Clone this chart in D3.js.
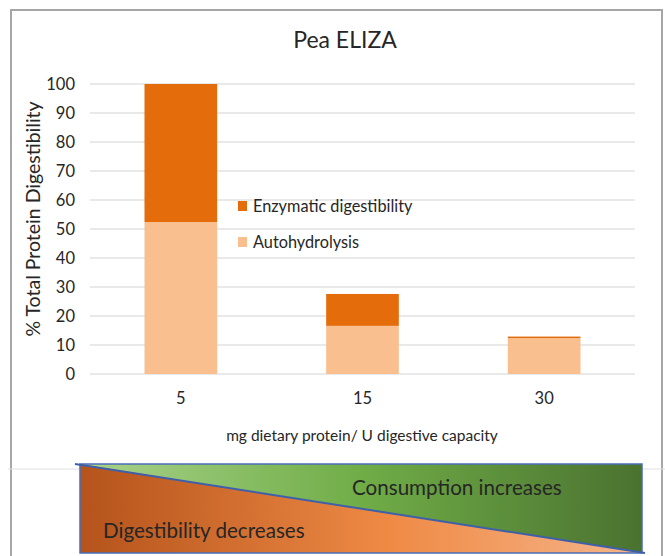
<!DOCTYPE html>
<html>
<head>
<meta charset="utf-8">
<script src="https://cdn.jsdelivr.net/npm/d3@7"></script>
<style>
  body { margin: 0; background: #fff; }
  svg text { font-family: Lato, "Open Sans", sans-serif; fill: #262626; }
</style>
</head>
<body>
<div id="chart"></div>
<script>
// chart data
var categories = ["5", "15", "30"];
var autohydrolysis = [52.4, 16.6, 12.4];
var enzymatic = [47.6, 11.0, 0.5];
var seriesNames = ["Autohydrolysis", "Enzymatic digestibility"];
var yTicks = [0, 10, 20, 30, 40, 50, 60, 70, 80, 90, 100];

var W = 665, H = 556;
var margin = {top: 84, left: 90, right: 30, bottom: 182};
var width = 635 - margin.left,
    height = 374 - margin.top;

var svg = d3.select("#chart").append("svg")
    .attr("width", W).attr("height", H);

// outer frame + separator line
svg.append("path")
   .attr("d", "M11,556V10H662V556")
   .attr("fill", "none").attr("stroke", "#a6a6a6").attr("stroke-width", 2);
svg.append("line")
   .attr("x1", 8).attr("x2", 665).attr("y1", 469).attr("y2", 469)
   .attr("stroke", "#e0e0e0").attr("stroke-width", 1);

// title
svg.append("text")
   .attr("x", 345).attr("y", 48)
   .attr("text-anchor", "middle")
   .style("font-size", "23px")
   .text("Pea ELIZA");

var g = svg.append("g")
    .attr("transform", "translate(" + margin.left + "," + margin.top + ")");

var x = d3.scaleBand().domain(categories).range([0, width]).paddingInner(0.6).paddingOuter(0.3);
var y = d3.scaleLinear().domain([0, 100]).range([height, 0]);

// gridlines
g.selectAll(".grid").data(yTicks).enter().append("line")
  .attr("x1", 0).attr("x2", width)
  .attr("y1", function(d) { return y(d); })
  .attr("y2", function(d) { return y(d); })
  .attr("stroke", "#d4d4d4").attr("stroke-width", 1.2);

// y axis labels
var yAxis = g.append("g").call(d3.axisLeft(y).tickValues(yTicks).tickSize(0).tickPadding(15));
yAxis.select(".domain").remove();
yAxis.selectAll("text").style("font-size", "16.5px").attr("fill", "#3a3a3a");

// x axis labels
var xAxis = g.append("g")
   .attr("transform", "translate(0," + height + ")")
   .call(d3.axisBottom(x).tickSize(0).tickPadding(18));
xAxis.select(".domain").remove();
xAxis.selectAll("text").style("font-size", "16.5px").attr("fill", "#3a3a3a");

// stacked bars
var rows = categories.map(function(c, i) {
  return {cat: c, "Autohydrolysis": autohydrolysis[i], "Enzymatic digestibility": enzymatic[i]};
});
var stack = d3.stack().keys(seriesNames)(rows);
var colors = {"Autohydrolysis": "#f9bf8f", "Enzymatic digestibility": "#e46c0a"};

g.selectAll(".series").data(stack).enter().append("g")
  .attr("fill", function(d) { return colors[d.key]; })
  .selectAll("rect").data(function(d) { return d; }).enter().append("rect")
  .attr("x", function(d) { return x(d.data.cat); })
  .attr("width", x.bandwidth())
  .attr("y", function(d) { return y(d[1]); })
  .attr("height", function(d) { return y(d[0]) - y(d[1]); });

// legend
var legend = svg.selectAll(".legend").data(seriesNames.slice().reverse()).enter().append("g")
   .attr("transform", function(d, i) { return "translate(238," + (201 + i * 36) + ")"; });
legend.append("rect").attr("width", 9).attr("height", 10)
   .attr("fill", function(d) { return colors[d]; });
legend.append("text").attr("x", 15).attr("y", 11)
   .style("font-size", "16.3px").attr("fill", "#3a3a3a")
   .text(function(d) { return d; });

// axis titles
svg.append("text")
   .attr("transform", "translate(40,219) rotate(-90)")
   .attr("text-anchor", "middle")
   .style("font-size", "19.5px")
   .text("% Total Protein Digestibility");
svg.append("text")
   .attr("x", 362).attr("y", 441)
   .attr("text-anchor", "middle")
   .style("font-size", "15.5px")
   .text("mg dietary protein/ U digestive capacity");

// trend box underneath
var defs = svg.append("defs");
var gOr = defs.append("linearGradient").attr("id", "gOr");
gOr.append("stop").attr("offset", "0%").attr("stop-color", "#b4531b");
gOr.append("stop").attr("offset", "55%").attr("stop-color", "#ef8a45");
gOr.append("stop").attr("offset", "100%").attr("stop-color", "#f5b58b");
var gGr = defs.append("linearGradient").attr("id", "gGr");
gGr.append("stop").attr("offset", "0%").attr("stop-color", "#a9d38c");
gGr.append("stop").attr("offset", "50%").attr("stop-color", "#70ad47");
gGr.append("stop").attr("offset", "100%").attr("stop-color", "#4a7230");

var bx0 = 80, bx1 = 642, by0 = 464, by1 = 553;
svg.append("path").attr("d", "M" + bx0 + "," + by0 + "L" + bx1 + "," + by0 + "L" + bx1 + "," + by1 + "Z")
   .attr("fill", "url(#gGr)");
svg.append("path").attr("d", "M" + bx0 + "," + by0 + "L" + bx1 + "," + by1 + "L" + bx0 + "," + by1 + "Z")
   .attr("fill", "url(#gOr)");
svg.append("rect").attr("x", bx0).attr("y", by0).attr("width", bx1 - bx0).attr("height", by1 - by0)
   .attr("fill", "none").attr("stroke", "#4a6db5").attr("stroke-width", 1.5);
svg.append("line").attr("x1", bx0 - 5).attr("y1", by0).attr("x2", bx1 + 3).attr("y2", by1)
   .attr("stroke", "#3f5fa8").attr("stroke-width", 2);

svg.append("text").attr("x", 352).attr("y", 495)
   .style("font-size", "20.6px").attr("fill", "#111")
   .text("Consumption increases");
svg.append("text").attr("x", 103).attr("y", 538)
   .style("font-size", "20.6px").attr("fill", "#111")
   .text("Digestibility decreases");
</script>
</body>
</html>
